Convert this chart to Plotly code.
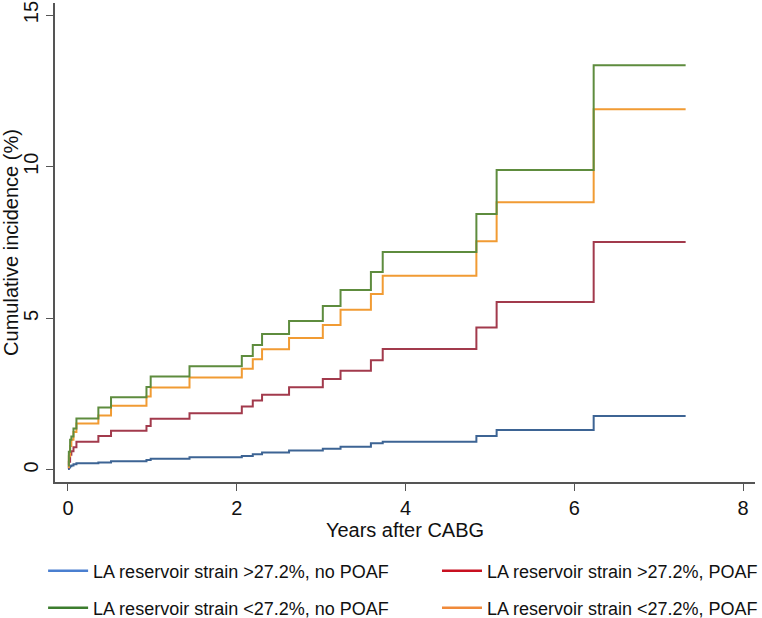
import plotly.graph_objects as go

# Step times (years after CABG)
times = [0, 0.01, 0.025, 0.04, 0.065, 0.10, 0.36, 0.51, 0.93, 0.98, 1.44, 2.06, 2.19,
         2.30, 2.62, 3.02, 3.23, 3.59, 3.73, 4.84, 5.08, 6.23, 7.32]

# Cumulative incidence (%) per group
high_no_poaf = [0.03, 0.08, 0.12, 0.15, 0.19, 0.22, 0.25, 0.29, 0.33, 0.37, 0.42, 0.46, 0.52,
                0.58, 0.64, 0.70, 0.77, 0.88, 0.93, 1.12, 1.32, 1.78, 1.78]
high_poaf = [0.08, 0.27, 0.50, 0.62, 0.75, 0.93, 1.12, 1.29, 1.45, 1.69, 1.87, 2.09, 2.29,
             2.48, 2.73, 3.00, 3.27, 3.62, 3.99, 4.70, 5.54, 7.52, 7.52]
low_no_poaf = [0.15, 0.60, 1.00, 1.10, 1.37, 1.70, 2.06, 2.40, 2.74, 3.08, 3.42, 3.76, 4.12,
               4.48, 4.91, 5.41, 5.93, 6.53, 7.19, 8.44, 9.89, 13.34, 13.34]
low_poaf = [0.10, 0.45, 0.79, 1.00, 1.25, 1.53, 1.80, 2.12, 2.42, 2.72, 3.05, 3.34, 3.65,
            3.98, 4.35, 4.78, 5.28, 5.80, 6.40, 7.54, 8.83, 11.89, 11.89]

names = ["LA reservoir strain >27.2%, no POAF", "LA reservoir strain >27.2%, POAF",
         "LA reservoir strain <27.2%, no POAF", "LA reservoir strain <27.2%, POAF"]
series = [high_no_poaf, high_poaf, low_no_poaf, low_poaf]
line_colors = ["#3d6494", "#a23a4c", "#5e8c3e", "#f19b33"]
legend_colors = ["#4a7fd0", "#c81020", "#3c7d2e", "#f08a3a"]
legend_ids = ["legend", "legend2", "legend3", "legend4"]

FONT = "Liberation Sans, Arial, Helvetica, sans-serif"

fig = go.Figure()
# draw order: blue, red, orange, green (green on top like reference)
for i in [0, 1, 3, 2]:
    fig.add_trace(go.Scatter(x=times, y=series[i], mode="lines", line_shape="hv",
                             line=dict(color=line_colors[i], width=2), showlegend=False,
                             hoverinfo="skip"))
for i in range(4):
    fig.add_trace(go.Scatter(x=[None], y=[None], mode="lines", name=names[i],
                             line=dict(color=legend_colors[i], width=2.5),
                             legend=legend_ids[i], showlegend=True))

axis_common = dict(showgrid=False, zeroline=False, showline=True, linecolor="#555555",
                   linewidth=1.5, ticks="outside", ticklen=7, tickwidth=1.3, tickcolor="#555555",
                   automargin=False,
                   tickfont=dict(family=FONT, size=20, color="#111111"))

leg_common = dict(orientation="h", xanchor="left", yanchor="middle", itemwidth=40,
                  font=dict(family=FONT, size=18), bgcolor="rgba(0,0,0,0)")
# paper coords: plot x 55..755 px, y 3..482 px
row1 = -0.186
row2 = -0.263
col1 = -0.017
col2 = 0.5457

fig.update_layout(
    width=762, height=618,
    margin=dict(l=55, r=7, t=3, b=136, autoexpand=False),
    paper_bgcolor="white", plot_bgcolor="white",
    font=dict(family=FONT, color="#111111"),
    xaxis=dict(range=[-0.154, 8.142], tickvals=[0, 2, 4, 6, 8],
               title=dict(text="Years after CABG", font=dict(family=FONT, size=20), standoff=0),
               **axis_common),
    yaxis=dict(range=[-0.396, 15.396], tickvals=[0, 5, 10, 15], tickangle=-90,
               title=dict(text="Cumulative incidence (%)", font=dict(family=FONT, size=20), standoff=2),
               **axis_common),
    legend=dict(x=col1, y=row1, **leg_common),
    legend2=dict(x=col2, y=row1, **leg_common),
    legend3=dict(x=col1, y=row2, **leg_common),
    legend4=dict(x=col2, y=row2, **leg_common),
)

fig.write_html("out.html", config={"displayModeBar": False},
               post_script="document.body.style.margin='0';document.body.style.overflow='hidden';")
